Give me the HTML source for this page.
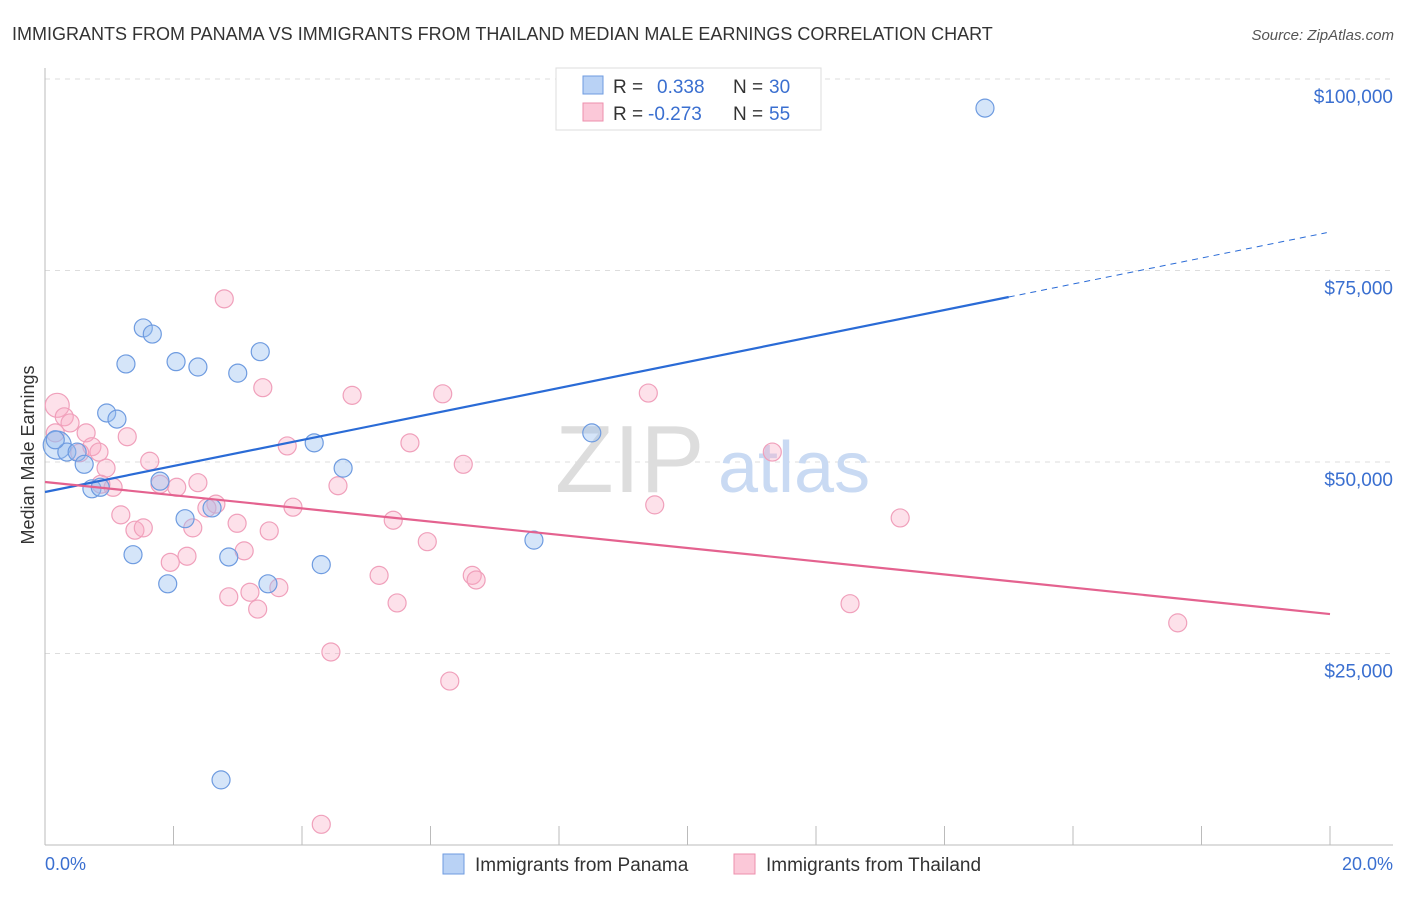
<!DOCTYPE html>
<html><head><meta charset="utf-8"><style>
body{margin:0;background:#fff;font-family:"Liberation Sans",sans-serif;}
svg text{font-family:"Liberation Sans",sans-serif;}
</style></head><body>
<svg id="chart" width="1406" height="892" xmlns="http://www.w3.org/2000/svg">
<text x="12" y="40" font-size="18" fill="#333">IMMIGRANTS FROM PANAMA VS IMMIGRANTS FROM THAILAND MEDIAN MALE EARNINGS CORRELATION CHART</text>
<text x="1394" y="40" font-size="15" fill="#555" text-anchor="end" font-style="italic">Source: ZipAtlas.com</text>
<g id="grid"></g>
<g><text x="555" y="492" font-size="96" fill="#ddd" font-family="Liberation Serif,serif">ZIP</text><text x="718" y="492" font-size="72" fill="#c9daf3">atlas</text></g>
<line x1="45" y1="68" x2="45" y2="845" stroke="#bbb"/>
<line x1="45" y1="845" x2="1393" y2="845" stroke="#bbb"/>
<g id="xticks"></g>
<g id="ylabels"></g>
<text x="45" y="870" font-size="18" fill="#3a6fd0">0.0%</text>
<text x="1393" y="870" font-size="18" fill="#3a6fd0" text-anchor="end">20.0%</text>
<text transform="translate(34,455) rotate(-90)" font-size="18" fill="#333" text-anchor="middle">Median Male Earnings</text>
<g id="points"></g>
<g id="trends"></g>
<g>
<rect x="556" y="68" width="265" height="62" fill="#fff" stroke="#ddd"/>
<rect x="583" y="76" width="20" height="18" fill="#b9d2f5" stroke="#6e9be0"/>
<rect x="583" y="103" width="20" height="18" fill="#fbc8d8" stroke="#ee8fad"/>
<text x="613" y="93" font-size="19" fill="#333">R =</text><text x="657" y="93" font-size="19" fill="#3a6fd0">0.338</text>
<text x="733" y="93" font-size="19" fill="#333">N =</text><text x="769" y="93" font-size="19" fill="#3a6fd0">30</text>
<text x="613" y="120" font-size="19" fill="#333">R =</text><text x="648" y="120" font-size="19" fill="#3a6fd0">-0.273</text>
<text x="733" y="120" font-size="19" fill="#333">N =</text><text x="769" y="120" font-size="19" fill="#3a6fd0">55</text>
</g>
<g>
<rect x="443" y="854" width="21" height="20" fill="#b9d2f5" stroke="#6e9be0"/>
<text x="475" y="871" font-size="19" fill="#333">Immigrants from Panama</text>
<rect x="734" y="854" width="21" height="20" fill="#fbc8d8" stroke="#ee8fad"/>
<text x="766" y="871" font-size="19" fill="#333">Immigrants from Thailand</text>
</g>
</svg>
<script>
const yTicks=[25000,50000,75000,100000];
const yTickLabels=["$25,000","$50,000","$75,000","$100,000"];
const xTickVals=[0,2,4,6,8,10,12,14,16,18,20];
const panamaX=[14.63,1.53,1.67,1.26,2.04,2.38,3.00,3.35,0.96,1.12,8.51,4.19,4.64,0.19,0.34,0.50,0.61,0.73,0.86,1.79,2.18,2.60,7.61,1.37,2.86,4.30,1.91,3.47,2.74,0.16];
const panamaY=[96200,67500,66700,62800,63100,62400,61600,64400,56400,55600,53800,52500,49200,52200,51300,51300,49700,46500,46700,47500,42600,44000,39800,37900,37600,36600,34100,34100,8500,52900];
const thaiX=[2.79,3.39,4.78,6.19,9.39,0.19,0.30,0.39,0.64,1.28,0.73,0.54,0.84,0.95,1.63,3.77,5.68,6.51,11.32,1.06,1.79,2.05,2.38,2.66,2.52,4.56,3.86,9.49,13.31,1.18,2.99,5.42,2.30,1.40,1.53,3.49,5.95,3.10,2.21,1.95,5.20,6.65,6.71,2.86,3.19,3.64,3.31,5.48,12.53,17.63,4.45,6.30,4.30,0.16,0.87];
const thaiY=[71300,59700,58700,58900,59000,57400,55900,55100,53800,53300,52000,51200,51300,49200,50100,52100,52500,49700,51300,46700,47100,46700,47300,44500,44000,46900,44100,44400,42700,43100,42000,42400,41400,41100,41400,41000,39600,38400,37700,36900,35200,35200,34600,32400,33000,33600,30800,31600,31500,29000,25200,21400,2700,53800,47100];
const panamaTrend=[46084,1697];
const thaiTrend=[47390,-862];
const X=v=>45+v/20*1285, Y=v=>845-v/25000*191.5;
const NS="http://www.w3.org/2000/svg";
function mk(t,a,p){const e=document.createElementNS(NS,t);for(const k in a)e.setAttribute(k,a[k]);p.appendChild(e);return e;}
const grid=document.getElementById('grid'),yl=document.getElementById('ylabels'),xt=document.getElementById('xticks');
yTicks.forEach((v,i)=>{
 const l=mk('line',{x1:45,x2:1393,y1:Y(v),y2:Y(v),stroke:'#ddd','stroke-dasharray':'5,5'},grid);
 
 
 const t=mk('text',{x:1393,y:Y(v)+24,'font-size':19,fill:'#3a6fd0','text-anchor':'end'},yl);
 t.textContent=yTickLabels[i];
 
 
});
xTickVals.forEach(v=>{
 const l=mk('line',{x1:X(v),x2:X(v),y1:826,y2:845,stroke:'#bbb'},xt);
 
 
});
const pts=document.getElementById('points');
thaiX.forEach((x,i)=>{
 const big=(i===5);
 const c=mk('circle',{cx:X(x),cy:Y(thaiY[i]),r:big?12:9,fill:'rgba(248,170,196,0.35)',stroke:'#f0a0bb','stroke-width':1.2},pts);
 
 
});
panamaX.forEach((x,i)=>{
 const big=(i===13);
 const c=mk('circle',{cx:X(x),cy:Y(panamaY[i]),r:big?14:9,fill:'rgba(150,190,240,0.4)',stroke:'#6e9be0','stroke-width':1.2},pts);
 
 
});
const tr=document.getElementById('trends');
const b0=mk('line',{x1:X(0),y1:Y(panamaTrend[0]),x2:X(15),y2:Y(panamaTrend[0]+15*panamaTrend[1]),stroke:'#2a6bd6','stroke-width':2.2},tr);


const b1=mk('line',{x1:X(15),y1:Y(panamaTrend[0]+15*panamaTrend[1]),x2:X(19.95),y2:Y(panamaTrend[0]+19.95*panamaTrend[1]),stroke:'#2a6bd6','stroke-width':1,'stroke-dasharray':'6,5'},tr);


const p0=mk('line',{x1:X(0),y1:Y(thaiTrend[0]),x2:X(20),y2:Y(thaiTrend[0]+20*thaiTrend[1]),stroke:'#e4628f','stroke-width':2.2},tr);


</script>
</body></html>
